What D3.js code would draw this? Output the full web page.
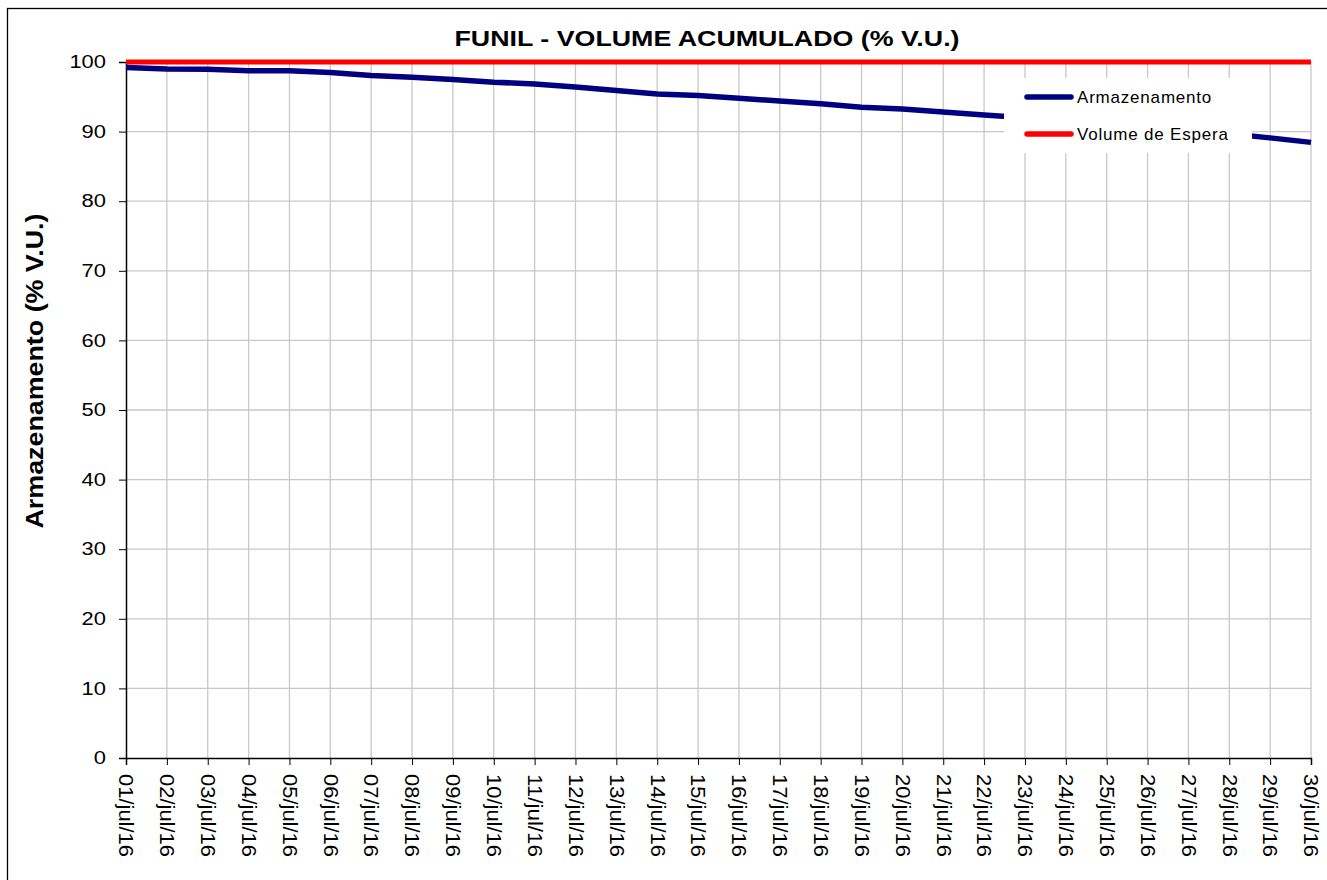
<!DOCTYPE html>
<html>
<head>
<meta charset="utf-8">
<script src="https://cdn.jsdelivr.net/npm/d3@7"></script>
<style>
  body { margin: 0; background: #fff; }
  svg { display: block; font-family: "Liberation Sans", Arial, sans-serif; }
</style>
</head>
<body>
<div id="chart"></div>
<script>
// chart size and plot box
const width = 1327;
const height = 880;
const margin = {left: 126, right: 16, top: 62, bottom: 122};

// data
const dias = ["01/jul/16","02/jul/16","03/jul/16","04/jul/16","05/jul/16","06/jul/16",
  "07/jul/16","08/jul/16","09/jul/16","10/jul/16","11/jul/16","12/jul/16","13/jul/16",
  "14/jul/16","15/jul/16","16/jul/16","17/jul/16","18/jul/16","19/jul/16","20/jul/16",
  "21/jul/16","22/jul/16","23/jul/16","24/jul/16","25/jul/16","26/jul/16","27/jul/16",
  "28/jul/16","29/jul/16","30/jul/16"];
const armazenamento = [99.2, 99.0, 98.95, 98.75, 98.75, 98.5, 98.05, 97.8, 97.5, 97.1,
  96.85, 96.4, 95.9, 95.4, 95.2, 94.8, 94.4, 94.0, 93.5, 93.25,
  92.8, 92.4, 92.0, 91.5, 91.1, 90.6, 90.2, 89.7, 89.1, 88.45];
const volumeEspera = dias.map(() => 100);
const yTicks = [0, 10, 20, 30, 40, 50, 60, 70, 80, 90, 100];

const svg = d3.select("#chart")
  .append("svg")
  .attr("width", width)
  .attr("height", height);

// outer frame
svg.append("rect")
  .attr("x", 7.5).attr("y", 8.5)
  .attr("width", width + 20).attr("height", height + 20)
  .attr("fill", "none").attr("stroke", "#000").attr("stroke-width", 1.3);

// scales
let xScale = d3.scalePoint()
  .domain(dias)
  .range([margin.left, width - margin.right]);

let yScale = d3.scaleLinear()
  .domain([0, 100])
  .range([height - margin.bottom, margin.top]);

// grid
svg.append("g")
  .selectAll("line")
  .data(dias.slice(1))
  .enter().append("line")
    .attr("x1", d => xScale(d)).attr("x2", d => xScale(d))
    .attr("y1", yScale(100)).attr("y2", yScale(0))
    .attr("stroke", "#c8c8c8").attr("stroke-width", 1.3);

svg.append("g")
  .selectAll("line")
  .data(yTicks.slice(1))
  .enter().append("line")
    .attr("x1", margin.left).attr("x2", width - margin.right)
    .attr("y1", d => yScale(d)).attr("y2", d => yScale(d))
    .attr("stroke", "#c8c8c8").attr("stroke-width", 1.3);

// axes
const yAxis = svg.append("g")
  .attr("transform", `translate(${margin.left},0)`)
  .call(d3.axisLeft(yScale).tickValues(yTicks).tickSize(7).tickPadding(13));
yAxis.select(".domain").attr("stroke-width", 1.5);
yAxis.selectAll("text").attr("font-size", "18px").attr("fill", "#000")
  .attr("font-family", "Liberation Sans, Arial, sans-serif")
  .attr("textLength", d => String(d).length * 12.2)
  .attr("lengthAdjust", "spacingAndGlyphs");

const xAxis = svg.append("g")
  .attr("transform", `translate(0,${height - margin.bottom})`)
  .call(d3.axisBottom(xScale).tickSize(7));
xAxis.select(".domain").attr("stroke-width", 1.5);
xAxis.selectAll("text")
  .attr("font-size", "20px").attr("fill", "#000")
  .attr("font-family", "Liberation Sans, Arial, sans-serif")
  .attr("text-anchor", "start")
  .attr("textLength", 83).attr("lengthAdjust", "spacingAndGlyphs")
  .attr("transform", "rotate(90)")
  .attr("x", 16).attr("y", 0).attr("dy", "0.36em");

// lines
const line = d3.line()
  .x((d, i) => xScale(dias[i]))
  .y(d => yScale(d));

svg.append("path")
  .datum(volumeEspera)
  .attr("d", line)
  .attr("fill", "none").attr("stroke", "#ff0000").attr("stroke-width", 5);

svg.append("path")
  .datum(armazenamento)
  .attr("d", line)
  .attr("fill", "none").attr("stroke", "#000080").attr("stroke-width", 5.5);

// legend
const legend = svg.append("g");
legend.append("rect")
  .attr("x", 1004).attr("y", 78).attr("width", 248).attr("height", 75)
  .attr("fill", "#fff");

const legendItems = [
  {name: "Armazenamento", color: "#000080", y: 97},
  {name: "Volume de Espera", color: "#ff0000", y: 134}
];
legend.selectAll(".leg-line")
  .data(legendItems)
  .enter().append("line")
    .attr("x1", 1027).attr("x2", 1071)
    .attr("y1", d => d.y).attr("y2", d => d.y)
    .attr("stroke", d => d.color).attr("stroke-width", 5.5)
    .attr("stroke-linecap", "round");
legend.selectAll(".leg-text")
  .data(legendItems)
  .enter().append("text")
    .attr("x", 1077).attr("y", d => d.y + 6)
    .attr("font-size", "17px").attr("letter-spacing", "0.8px")
    .text(d => d.name);

// titles
svg.append("text")
  .attr("x", 707).attr("y", 46)
  .attr("text-anchor", "middle")
  .attr("font-size", "22px").attr("font-weight", "bold")
  .attr("textLength", 505).attr("lengthAdjust", "spacingAndGlyphs")
  .text("FUNIL - VOLUME ACUMULADO (% V.U.)");

svg.append("text")
  .attr("transform", "translate(43,371) rotate(-90)")
  .attr("text-anchor", "middle")
  .attr("font-size", "23px").attr("font-weight", "bold")
  .attr("textLength", 315).attr("lengthAdjust", "spacingAndGlyphs")
  .text("Armazenamento (% V.U.)");
</script>
</body>
</html>
